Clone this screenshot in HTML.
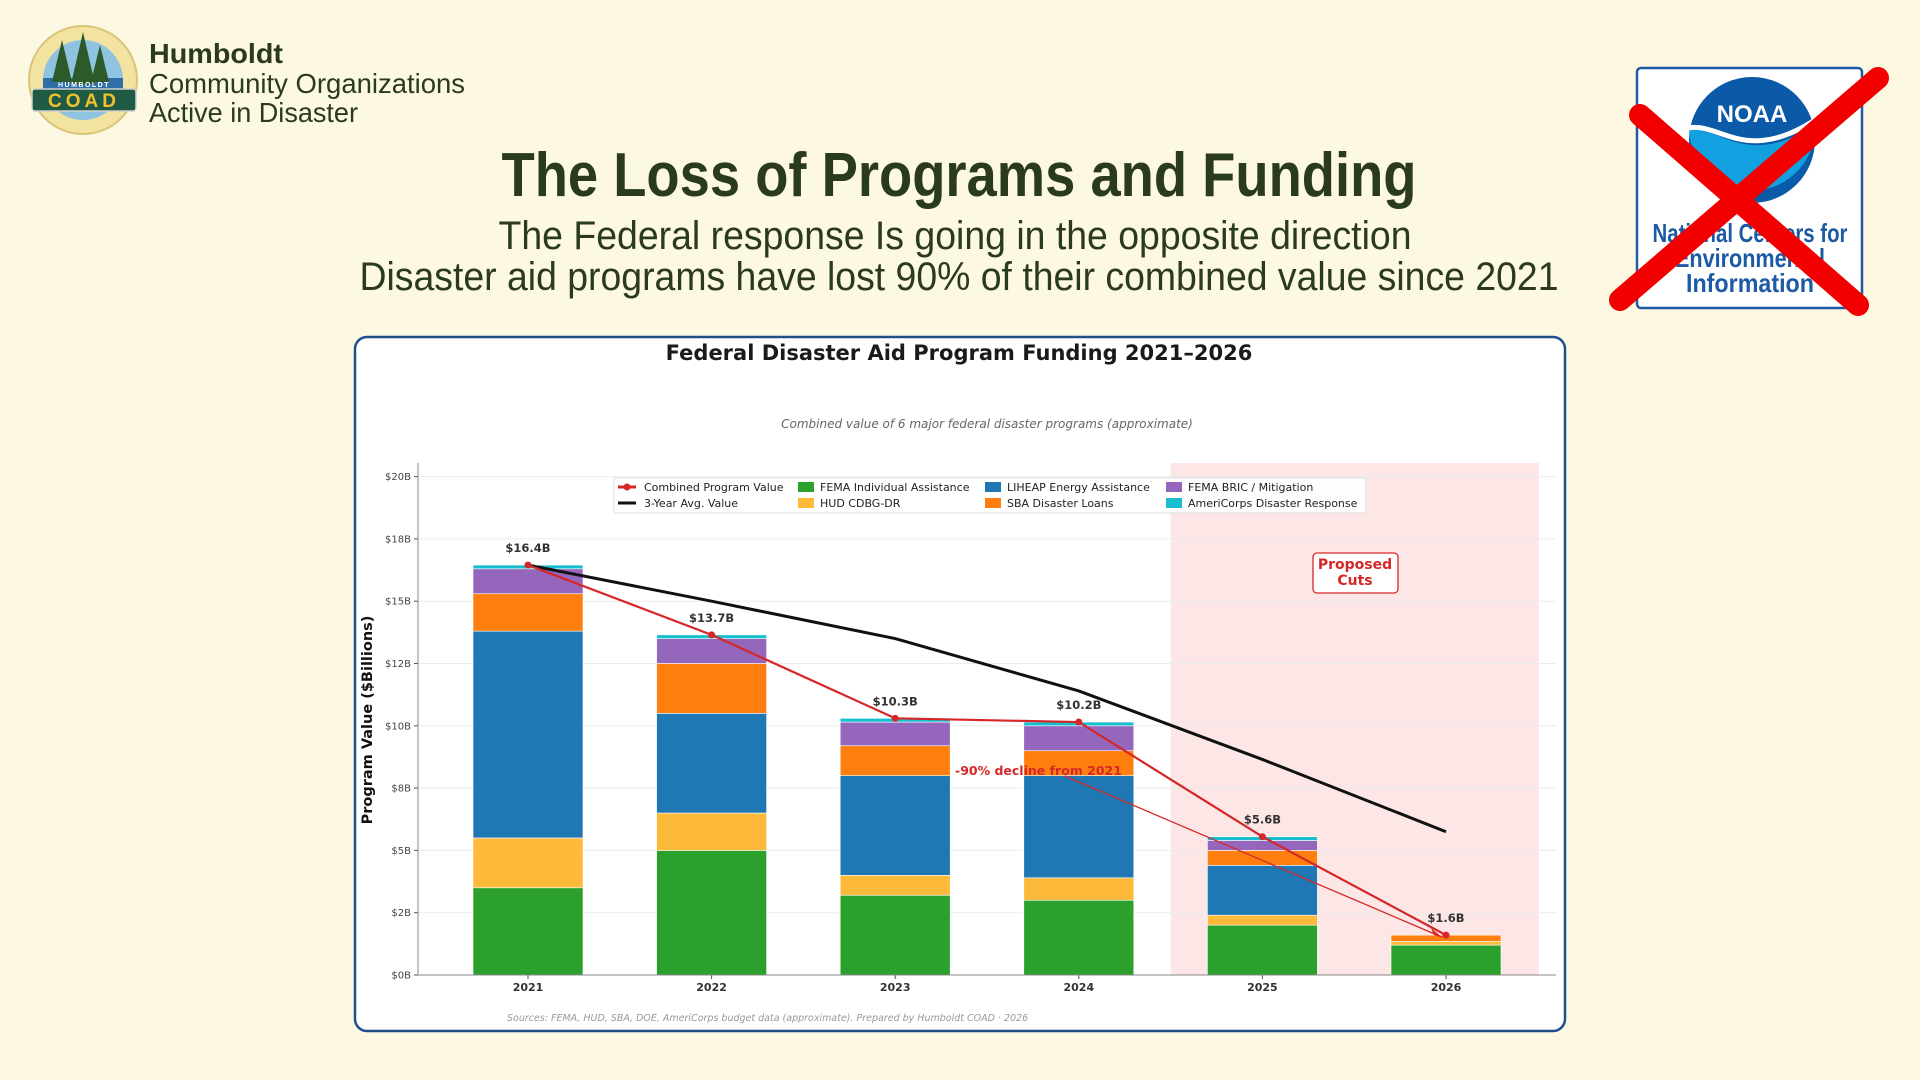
<!DOCTYPE html>
<html><head><meta charset="utf-8">
<style>
html,body{margin:0;padding:0;background:#fdf8e1;}
svg{display:block;font-family:"Liberation Sans",sans-serif;}
</style></head>
<body>
<svg id="page" width="1920" height="1080" viewBox="0 0 1920 1080" xmlns="http://www.w3.org/2000/svg">
<rect x="0" y="0" width="1920" height="1080" fill="#fdf8e1"/>

<!-- COAD logo -->
<g>
  <circle cx="83" cy="80" r="54" fill="#f3e3a0" stroke="#d9c57a" stroke-width="2"/>
  <circle cx="83" cy="80" r="40" fill="#8fc3e0"/>
  <rect x="43" y="78" width="80" height="12" fill="#2f6fa8"/>
  <polygon points="62,40 52,82 72,82" fill="#2c5a2a"/>
  <polygon points="83,32 71,84 95,84" fill="#2c5a2a"/>
  <polygon points="100,45 91,82 109,82" fill="#2c5a2a"/>
  <rect x="32" y="89" width="104" height="22" rx="3" fill="#1f5a45" stroke="#cfcfcf" stroke-width="1.5"/>
  <text x="84" y="107" text-anchor="middle" font-size="19" font-weight="bold" fill="#f2c12e" letter-spacing="4">COAD</text>
  <text x="84" y="87" text-anchor="middle" font-size="7" font-weight="bold" fill="#fff" letter-spacing="1.5">HUMBOLDT</text>
</g>
<text x="149" y="63" font-size="28" font-weight="bold" fill="#2a3a1c" textLength="134" lengthAdjust="spacingAndGlyphs">Humboldt</text>
<text x="149" y="93" font-size="28" fill="#2a3a1c" textLength="316" lengthAdjust="spacingAndGlyphs">Community Organizations</text>
<text x="149" y="122" font-size="28" fill="#2a3a1c" textLength="209" lengthAdjust="spacingAndGlyphs">Active in Disaster</text>

<!-- Titles -->
<text x="959" y="196" text-anchor="middle" font-size="62" font-weight="bold" fill="#2a3a1c" textLength="915" lengthAdjust="spacingAndGlyphs">The Loss of Programs and Funding</text>
<text x="955" y="249" text-anchor="middle" font-size="40" fill="#2a3a1c" textLength="913" lengthAdjust="spacingAndGlyphs">The Federal response Is going in the opposite direction</text>
<text x="959" y="290" text-anchor="middle" font-size="40" fill="#2a3a1c" textLength="1199" lengthAdjust="spacingAndGlyphs">Disaster aid programs have lost 90% of their combined value since 2021</text>

<!-- NOAA crossed logo -->
<g>
  <rect x="1637" y="68" width="225" height="240" rx="4" fill="#fff" stroke="#1c5aa6" stroke-width="2.5"/>
  <circle cx="1752" cy="140" r="63" fill="#0a5aa8"/>
  <path d="M1689,130 C1720,125 1745,170 1815,125 A63,63 0 0 1 1689,130 Z" fill="#12a0e0"/>
  <path d="M1689,128 C1720,122 1745,165 1815,120" fill="none" stroke="#fff" stroke-width="5"/>
  <text x="1752" y="122" text-anchor="middle" font-size="24" font-weight="bold" fill="#fff">NOAA</text>
  <text x="1750" y="242" text-anchor="middle" font-size="26" font-weight="bold" fill="#1c5aa6" textLength="195" lengthAdjust="spacingAndGlyphs">National Centers for</text>
  <text x="1750" y="267" text-anchor="middle" font-size="26" font-weight="bold" fill="#1c5aa6" textLength="150" lengthAdjust="spacingAndGlyphs">Environmental</text>
  <text x="1750" y="292" text-anchor="middle" font-size="26" font-weight="bold" fill="#1c5aa6" textLength="128" lengthAdjust="spacingAndGlyphs">Information</text>
  <line x1="1640" y1="115" x2="1858" y2="305" stroke="#f20000" stroke-width="22" stroke-linecap="round"/>
  <line x1="1878" y1="78" x2="1620" y2="300" stroke="#f20000" stroke-width="22" stroke-linecap="round"/>
</g>

<!-- Chart panel -->
<rect x="355" y="337" width="1210" height="694" rx="12" fill="#fff" stroke="#1f4e89" stroke-width="2.5"/>
<text x="959" y="360" text-anchor="middle" font-family="DejaVu Sans, sans-serif" font-size="21" font-weight="bold" fill="#1a1a1a">Federal Disaster Aid Program Funding 2021–2026</text>
<text x="987" y="428" text-anchor="middle" font-family="DejaVu Sans, sans-serif" font-size="12" font-style="italic" fill="#666">Combined value of 6 major federal disaster programs (approximate)</text>
<text x="507" y="1021" font-family="DejaVu Sans, sans-serif" font-size="9.5" font-style="italic" fill="#999">Sources: FEMA, HUD, SBA, DOE, AmeriCorps budget data (approximate). Prepared by Humboldt COAD · 2026</text>
<g id="chart"></g>
</svg>

<script>
const years = ["2021","2022","2023","2024","2025","2026"];
const femaIA = [3.5, 5.0, 3.2, 3.0, 2.0, 1.2];
const hudCdbg = [2.0, 1.5, 0.8, 0.9, 0.4, 0.15];
const liheap = [8.3, 4.0, 4.0, 4.1, 2.0, 0.0];
const sbaLoans = [1.5, 2.0, 1.2, 1.0, 0.6, 0.25];
const femaBric = [1.0, 1.0, 0.95, 1.0, 0.4, 0.0];
const americorps = [0.15, 0.15, 0.15, 0.15, 0.15, 0.0];
const combinedLabels = ["$16.4B","$13.7B","$10.3B","$10.2B","$5.6B","$1.6B"];
const avgValues = [16.45, 15.0, 13.5, 11.4, 8.65, 5.75];
const yTicks = [0, 2.5, 5, 7.5, 10, 12.5, 15, 17.5, 20];
const yTickLabels = ["$0B","$2B","$5B","$8B","$10B","$12B","$15B","$18B","$20B"];

const NS = "http://www.w3.org/2000/svg";
const g = document.getElementById('chart');
const X0 = 418, X1 = 1556, Y0 = 975, YTOP = 463;
const yScale = v => Y0 - v * 24.92;
const xScale = i => 528 + i * 183.6;
const barW = 110;
function mk(tag, attrs, parent) {
  const e = document.createElementNS(NS, tag);
  for (const k in attrs) e.setAttribute(k, attrs[k]);
  (parent || g).appendChild(e);
  return e;
}

// shaded proposed region
const shade = mk('rect', {x: (xScale(3)+xScale(4))/2, y: YTOP, width: X1 - 17 - (xScale(3)+xScale(4))/2, height: Y0 - YTOP, fill: '#fde3e3', opacity: 0.9});



// grid + ticks
yTicks.forEach((t, i) => {
  const y = yScale(t);
  const gl = mk('line', {x1: X0, x2: X1, y1: y, y2: y, stroke: '#ececec', 'stroke-width': 1});
  
  
  mk('line', {x1: X0 - 4, x2: X0, y1: y, y2: y, stroke: '#555'});
  const tl = mk('text', {x: X0 - 7, y: y + 3.5, 'text-anchor': 'end', 'font-size': 10, fill: '#444', 'font-family': 'DejaVu Sans, sans-serif'});
  tl.textContent = yTickLabels[i];
  
  
});

// bars
const series = [femaIA, hudCdbg, liheap, sbaLoans, femaBric, americorps];
const colors = ['#2ca02c', '#fdb93a', '#1f77b4', '#ff7f0e', '#9467bd', '#17becf'];
const names = ['fema-ia', 'hud-cdbg', 'liheap', 'sba-loans', 'fema-bric', 'americorps'];
const totals = years.map((_, i) => series.reduce((s, a) => s + a[i], 0));
years.forEach((yr, i) => {
  let base = 0;
  series.forEach((arr, k) => {
    const v = arr[i];
    if (v > 0) {
      const r = mk('rect', {x: xScale(i) - barW/2, y: yScale(base + v), width: barW, height: yScale(base) - yScale(base + v), fill: colors[k], stroke: '#fff', 'stroke-width': 0.6});
      
      
    }
    base += v;
  });
  mk('line', {x1: xScale(i), x2: xScale(i), y1: Y0, y2: Y0 + 4, stroke: '#555'});
  const xl = mk('text', {x: xScale(i), y: Y0 + 16, 'text-anchor': 'middle', 'font-size': 11, 'font-weight': 'bold', fill: '#333', 'font-family': 'DejaVu Sans, sans-serif'});
  xl.textContent = yr;
  
  
});

// axes
mk('line', {x1: X0, x2: X0, y1: YTOP, y2: Y0, stroke: '#888', 'stroke-width': 1});
mk('line', {x1: X0, x2: X1, y1: Y0, y2: Y0, stroke: '#888', 'stroke-width': 1});
const yt = mk('text', {x: 0, y: 0, transform: 'translate(372,720) rotate(-90)', 'text-anchor': 'middle', 'font-size': 14.5, 'font-weight': 'bold', fill: '#111', 'font-family': 'DejaVu Sans, sans-serif'});
yt.textContent = 'Program Value ($Billions)';



// avg line
const avgPts = avgValues.map((v, i) => xScale(i) + ',' + yScale(v)).join(' ');
const al = mk('polyline', {points: avgPts, fill: 'none', stroke: '#111', 'stroke-width': 3});



// annotation arrow
const ax1 = xScale(3) - 14, ay1 = 776, ax2 = xScale(5) - 4, ay2 = yScale(totals[5]) + 2;
const arr = mk('line', {x1: ax1, y1: ay1, x2: ax2, y2: ay2, stroke: '#d62728', 'stroke-width': 1.3});


mk('polygon', {points: `${ax2},${ay2} ${ax2-11},${ay2-9} ${ax2-8},${ay2-2}`, fill: '#d62728'});

// combined line
const cPts = totals.map((v, i) => xScale(i) + ',' + yScale(v)).join(' ');
const cl = mk('polyline', {points: cPts, fill: 'none', stroke: '#d62728', 'stroke-width': 2.2});


totals.forEach((v, i) => {
  const c = mk('circle', {cx: xScale(i), cy: yScale(v), r: 3.5, fill: '#d62728'});
  
  
  const t = mk('text', {x: xScale(i), y: yScale(v) - 13, 'text-anchor': 'middle', 'font-size': 11.5, 'font-weight': 'bold', fill: '#333', 'font-family': 'DejaVu Sans, sans-serif'});
  t.textContent = combinedLabels[i];
  
  
});

const at = mk('text', {x: 955, y: 775, 'font-size': 12.5, 'font-weight': 'bold', fill: '#d62728', 'font-family': 'DejaVu Sans, sans-serif'});
at.textContent = '-90% decline from 2021';



// proposed cuts box
const pb = mk('rect', {x: 1313, y: 553, width: 85, height: 40, rx: 4, fill: '#fff', stroke: '#d62728', 'stroke-width': 1.3});


['Proposed', 'Cuts'].forEach((s, i) => {
  const t = mk('text', {x: 1355, y: 569 + i * 16, 'text-anchor': 'middle', 'font-size': 14, 'font-weight': 'bold', fill: '#d62728', 'font-family': 'DejaVu Sans, sans-serif'});
  t.textContent = s;
  
  
});

// legend
const lg = mk('g', {});


mk('rect', {x: 614, y: 478, width: 752, height: 35, fill: '#fff', 'fill-opacity': 0.85, stroke: '#ddd'}, lg);
const legendItems = [
  {t: 'Combined Program Value', type: 'line', c: '#d62728', x: 618, y: 487, dot: true},
  {t: '3-Year Avg. Value', type: 'line', c: '#111', x: 618, y: 503},
  {t: 'FEMA Individual Assistance', type: 'box', c: colors[0], x: 798, y: 487},
  {t: 'HUD CDBG-DR', type: 'box', c: colors[1], x: 798, y: 503},
  {t: 'LIHEAP Energy Assistance', type: 'box', c: colors[2], x: 985, y: 487},
  {t: 'SBA Disaster Loans', type: 'box', c: colors[3], x: 985, y: 503},
  {t: 'FEMA BRIC / Mitigation', type: 'box', c: colors[4], x: 1166, y: 487},
  {t: 'AmeriCorps Disaster Response', type: 'box', c: colors[5], x: 1166, y: 503},
];
legendItems.forEach(it => {
  const eg = mk('g', {}, lg);
  
  
  if (it.type === 'line') {
    mk('line', {x1: it.x, x2: it.x + 18, y1: it.y, y2: it.y, stroke: it.c, 'stroke-width': 3}, eg);
    if (it.dot) mk('circle', {cx: it.x + 9, cy: it.y, r: 3.5, fill: it.c}, eg);
  } else {
    mk('rect', {x: it.x, y: it.y - 5, width: 16, height: 10, fill: it.c}, eg);
  }
  const t = mk('text', {x: it.x + (it.type === 'line' ? 26 : 22), y: it.y + 4, 'font-size': 11, fill: '#222', 'font-family': 'DejaVu Sans, sans-serif'}, eg);
  t.textContent = it.t;
});
</script>
</body></html>
